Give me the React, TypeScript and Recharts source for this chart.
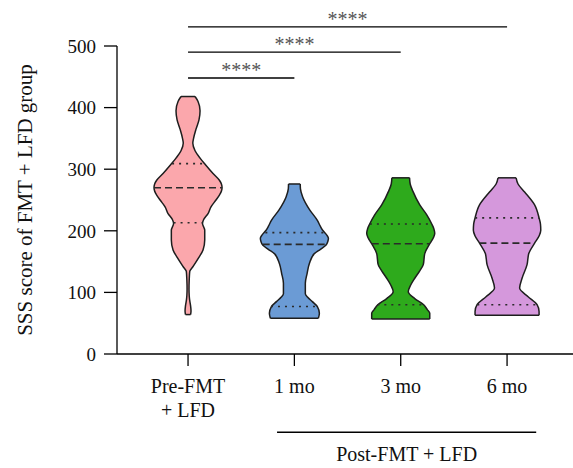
import {
  ComposedChart,
  Area,
  XAxis,
  YAxis,
  ReferenceLine,
  Label,
} from 'recharts';

const FONT = '"Liberation Serif", "Times New Roman", serif';

// group labels, one per category index 0..3
const GROUPS = ['Pre-FMT\n+ LFD', '1 mo', '3 mo', '6 mo'];

// violin outlines: score levels and half-widths (in category units)
const preScores = [64, 70, 78, 88, 95, 105, 120, 134, 142, 156, 169, 185, 201, 212, 218, 228, 239, 250, 258, 264, 270, 276, 282, 293, 308, 318, 330, 342, 350, 365, 380, 395, 410, 418];
const preWidths = [0.024, 0.028, 0.024, 0.015, 0.011, 0.009, 0.011, 0.016, 0.047, 0.099, 0.141, 0.157, 0.157, 0.136, 0.146, 0.188, 0.216, 0.263, 0.295, 0.313, 0.32, 0.314, 0.295, 0.235, 0.16, 0.113, 0.066, 0.045, 0.052, 0.075, 0.103, 0.113, 0.094, 0.066];

const m1Scores = [58, 66, 77, 85, 92, 98, 115, 131, 147, 163, 170, 177, 183, 188, 193, 200, 207, 217, 234, 255, 268, 276];
const m1Widths = [0.226, 0.235, 0.216, 0.169, 0.125, 0.103, 0.103, 0.12, 0.141, 0.188, 0.245, 0.298, 0.315, 0.32, 0.305, 0.27, 0.245, 0.216, 0.144, 0.078, 0.057, 0.055];

const m3Scores = [57, 66, 72, 80, 90, 101, 112, 123, 135, 145, 163, 179, 189, 196, 203, 211, 226, 242, 264, 276, 286];
const m3Widths = [0.273, 0.273, 0.25, 0.216, 0.132, 0.071, 0.094, 0.132, 0.179, 0.212, 0.226, 0.273, 0.308, 0.32, 0.312, 0.292, 0.245, 0.179, 0.115, 0.089, 0.083];

const m6Scores = [63, 69, 80, 93, 107, 123, 145, 163, 180, 192, 201, 211, 221, 242, 263, 276, 286];
const m6Widths = [0.301, 0.301, 0.282, 0.198, 0.118, 0.141, 0.188, 0.204, 0.259, 0.302, 0.317, 0.314, 0.301, 0.259, 0.165, 0.103, 0.085];

// median and quartiles, with the half-width of the line drawn across the violin
const medians = [270, 178, 179, 180];
const medianWidths = [0.32, 0.298, 0.272, 0.26];
const upperQuartiles = [309, 197, 211, 221];
const upperWidths = [0.15, 0.273, 0.29, 0.3];
const lowerQuartiles = [213, 77, 80, 80];
const lowerWidths = [0.136, 0.22, 0.22, 0.28];

// significance brackets from Pre-FMT to each later time point
const bracketTargets = [1, 2, 3];
const bracketLevels = [448, 490, 531];
const bracketLabel = '****';

// grouping line under the post-FMT categories
const postSpan = [0.837, 3.274];
const postLevel = -127;
const postLabel = 'Post-FMT + LFD';

const COLORS = ['#fba7ac', '#6b9bd5', '#2eaa1c', '#d598dc'];
const OUTLINE = '#1e1e1e';

const violins = [
  { key: 'pre', scores: preScores, widths: preWidths },
  { key: 'm1', scores: m1Scores, widths: m1Widths },
  { key: 'm3', scores: m3Scores, widths: m3Widths },
  { key: 'm6', scores: m6Scores, widths: m6Widths },
];

// one row per outline point, each violin's rows back to back;
// the other violins get [null, null] so their outlines break there
const table = violins.flatMap((v, i) =>
  v.scores.map((s, j) => {
    const row: Record<string, unknown> = { score: s };
    violins.forEach((o) => {
      row[o.key] = o.key === v.key ? [i - v.widths[j], i + v.widths[j]] : [null, null];
    });
    return row;
  }),
);

function GroupTick({ x, y, payload }: { x?: number; y?: number; payload?: { value: number } }) {
  const lines = GROUPS[payload?.value ?? 0].split('\n');
  return (
    <text x={x} y={y} textAnchor="middle" fill="#111" fontSize={20} fontFamily={FONT}>
      {lines.map((line, i) => (
        <tspan key={i} x={x} dy={i === 0 ? 25 : 24}>
          {line}
        </tspan>
      ))}
    </text>
  );
}

function hSeg(center: number, half: number, y: number) {
  return [
    { x: center - half, y },
    { x: center + half, y },
  ];
}

export default function App() {
  return (
    <div style={{ position: 'absolute', left: 0, top: 0 }}>
      <ComposedChart
        layout="vertical"
        width={573}
        height={468}
        data={table}
        margin={{ top: 46, right: 0, bottom: 0, left: 0 }}
      >
        <XAxis
          type="number"
          domain={[-0.668, 3.62]}
          ticks={[0, 1, 2, 3]}
          tickSize={12}
          height={114}
          stroke="#000"
          strokeWidth={1.3}
          tick={<GroupTick />}
        />
        <YAxis
          type="number"
          dataKey="score"
          reversed
          domain={[0, 500]}
          ticks={[0, 100, 200, 300, 400, 500]}
          width={117}
          tickSize={13}
          tickMargin={8}
          stroke="#000"
          strokeWidth={1.3}
          tick={{ fill: '#111', fontSize: 19, fontFamily: FONT }}
        >
          <Label
            value="SSS score of FMT + LFD group"
            angle={-90}
            position="insideLeft"
            offset={25}
            style={{ textAnchor: 'middle', fill: '#111', fontSize: 21, fontFamily: FONT }}
          />
        </YAxis>

        {violins.map((v, i) => (
          <Area
            key={v.key}
            dataKey={v.key}
            type="monotone"
            fill={COLORS[i]}
            fillOpacity={1}
            stroke={OUTLINE}
            strokeWidth={1.5}
            dot={false}
            activeDot={false}
            isAnimationActive={false}
          />
        ))}

        {/* flat caps at the ends of each violin */}
        {violins.map((v, i) => {
          const last = v.scores.length - 1;
          return [
            <ReferenceLine key={`${v.key}-bot`} segment={hSeg(i, v.widths[0], v.scores[0])} stroke={OUTLINE} strokeWidth={1.5} />,
            <ReferenceLine key={`${v.key}-top`} segment={hSeg(i, v.widths[last], v.scores[last])} stroke={OUTLINE} strokeWidth={1.5} />,
          ];
        })}

        {medians.map((m, i) => (
          <ReferenceLine key={`med-${i}`} segment={hSeg(i, medianWidths[i], m)} stroke="#2a2a2a" strokeWidth={1.6} strokeDasharray="7 4" />
        ))}
        {upperQuartiles.map((q, i) => (
          <ReferenceLine key={`q3-${i}`} segment={hSeg(i, upperWidths[i], q)} stroke="#2a2a2a" strokeWidth={1.6} strokeDasharray="2 5" />
        ))}
        {lowerQuartiles.map((q, i) => (
          <ReferenceLine key={`q1-${i}`} segment={hSeg(i, lowerWidths[i], q)} stroke="#2a2a2a" strokeWidth={1.6} strokeDasharray="2 5" />
        ))}

        {bracketTargets.map((t, i) => (
          <ReferenceLine
            key={`sig-${t}`}
            segment={[
              { x: 0, y: bracketLevels[i] },
              { x: t, y: bracketLevels[i] },
            ]}
            ifOverflow="visible"
            stroke="#000"
            strokeWidth={1.4}
            label={{ value: bracketLabel, position: 'top', offset: 1, fill: '#555', fontSize: 20, fontFamily: FONT }}
          />
        ))}

        <ReferenceLine
          segment={[
            { x: postSpan[0], y: postLevel },
            { x: postSpan[1], y: postLevel },
          ]}
          ifOverflow="visible"
          stroke="#000"
          strokeWidth={1.4}
          label={{ value: postLabel, position: 'bottom', offset: 15, fill: '#111', fontSize: 20, fontFamily: FONT }}
        />
      </ComposedChart>
    </div>
  );
}
